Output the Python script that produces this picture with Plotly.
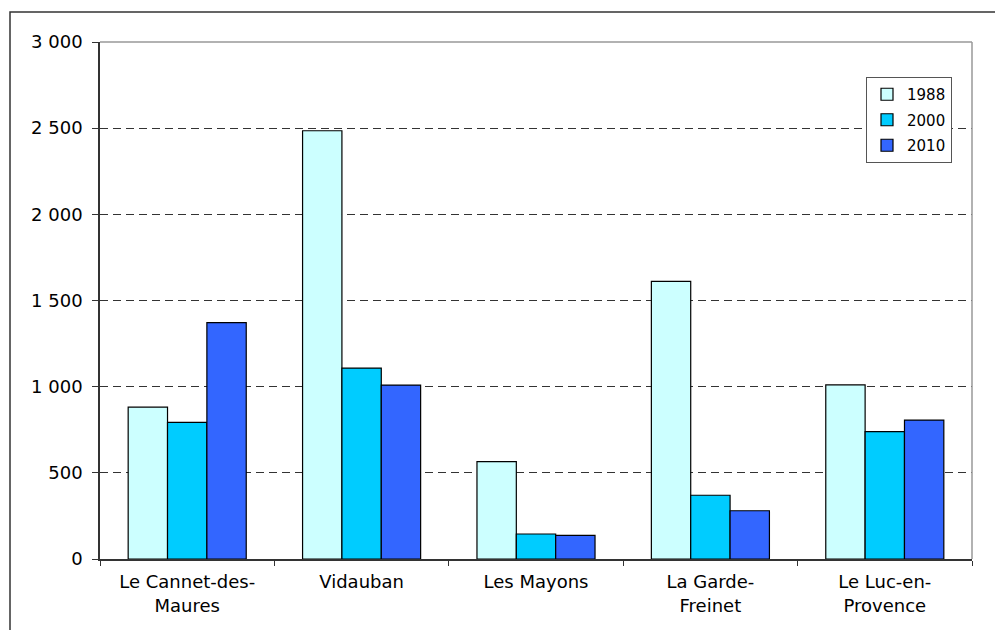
import plotly.graph_objects as go

categories = ["Le Cannet-des-<br>Maures", "Vidauban", "Les Mayons", "La Garde-<br>Freinet", "Le Luc-en-<br>Provence"]
years = ["1988", "2000", "2010"]
v1988 = [881, 2485, 565, 1611, 1010]
v2000 = [793, 1108, 145, 370, 739]
v2010 = [1372, 1009, 137, 280, 806]
colors = ["#CCFFFF", "#00CCFF", "#3366FF"]
ytickvals = [0, 500, 1000, 1500, 2000, 2500, 3000]
yticktext = ["0", "500", "1 000", "1 500", "2 000", "2 500", "3 000"]

fig = go.Figure()
for i, (name, vals) in enumerate(zip(years, [v1988, v2000, v2010])):
    fig.add_trace(go.Bar(
        x=categories, y=vals, name=name, legendgroup=name,
        marker=dict(color=colors[i], line=dict(color="#000000", width=1.2)),
    ))

# page body has an 8px margin; figure sized so that it fits the window
W, H = 995, 622
L, R, T, B = 92, 31, 34, 71
pw, ph = W - L - R, H - T - B

fig.update_layout(
    width=W, height=H,
    margin=dict(l=L, r=R, t=T, b=B),
    paper_bgcolor="white", plot_bgcolor="white",
    barmode="group", bargap=0.323, bargroupgap=0,
    font=dict(family="DejaVu Sans, Arial, sans-serif", size=18, color="#000000"),
    showlegend=True,
    legend=dict(
        x=(858 - L) / pw, y=(H - B - 69) / ph, xanchor="left", yanchor="top",
        bgcolor="white", bordercolor="#555555", borderwidth=1,
        font=dict(size=15), traceorder="grouped", tracegroupgap=3,
        itemwidth=30,
    ),
    xaxis=dict(
        showline=True, linecolor="#333333", linewidth=1.5,
        ticks="outside", tickson="boundaries", ticklen=5, tickcolor="#333333",
        showgrid=False, tickfont=dict(size=18), ticklabelstandoff=6,
    ),
    yaxis=dict(
        range=[0, 3000], tickvals=ytickvals, ticktext=yticktext,
        showline=True, linecolor="#333333", linewidth=1.5,
        ticks="outside", ticklen=6, tickcolor="#333333",
        showgrid=True, gridcolor="#333333", gridwidth=1, griddash="8px,5px",
        zeroline=False, tickfont=dict(size=18), ticklabelstandoff=6,
    ),
    shapes=[
        dict(type="line", xref="paper", yref="paper", x0=0, x1=1, y0=1, y1=1,
             line=dict(color="#999999", width=1.5)),
        dict(type="line", xref="paper", yref="paper", x0=1, x1=1, y0=0, y1=1,
             line=dict(color="#999999", width=1.5)),
        dict(type="rect", xref="paper", yref="paper",
             x0=(2 - L) / pw, x1=(1010 - L) / pw,
             y0=-(B + 20) / ph, y1=(H - B - 4) / ph,
             line=dict(color="#333333", width=1.5), fillcolor="rgba(0,0,0,0)"),
    ],
)

fig.write_html("out.html")
